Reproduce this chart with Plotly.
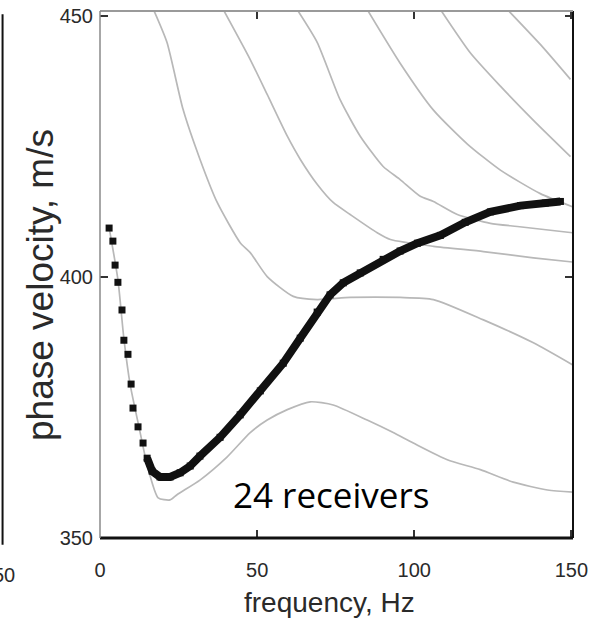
import plotly.graph_objects as go

# ---------------- data ----------------
# measured dispersion curve (black dots)
freq_obs = [2.9, 4.1, 4.8, 5.7, 7.0, 7.6, 8.9, 9.9, 10.5, 12.1, 13.7, 15.0,
            16.6, 19.1, 22.3, 25.5, 28.7, 31.8, 38.2, 44.6, 51.0, 58.3, 63.7,
            69.1, 73.2, 77.4, 82.8, 90.1, 95.5, 101.0, 108.3, 116.2, 124.2,
            133.8, 141.7, 146.5]
vel_obs = [409.4, 406.9, 402.3, 399.0, 393.7, 387.9, 385.2, 379.5, 374.9, 371.3,
           368.2, 365.3, 362.8, 361.7, 361.7, 362.5, 363.8, 365.7, 369.3, 373.6,
           378.2, 383.5, 388.3, 393.3, 396.6, 398.9, 400.8, 403.4, 405.0, 406.5,
           408.0, 410.5, 412.5, 413.7, 414.2, 414.5]
n_sparse = 12  # first points are separate dots, the rest merge into a thick band

# theoretical modes (grey lines)
m0_f = [2.9, 5.7, 7.6, 9.6, 12.4, 15.0, 18.5, 22.3, 24.5, 31.8, 40.4, 47.8, 53.2,
        59.6, 66.9, 74.2, 85.0, 93.3, 99.7, 110.5, 121.0, 131.5, 142.4, 150.6]
m0_v = [409.5, 399.5, 388.2, 379.4, 371.3, 364.0, 357.7, 357.3, 358.3, 361.1,
        365.5, 370.2, 372.6, 374.6, 376.1, 375.5, 372.6, 370.2, 368.2, 365.0,
        363.1, 360.7, 359.2, 358.8]
m1_f = [17.0, 21.3, 26.4, 31.8, 37.3, 44.6, 47.8, 53.2, 61.5, 69.1, 79.6, 95.5,
        106.1, 122.0, 137.9, 150.3]
m1_v = [451.3, 445.0, 432.2, 422.6, 414.3, 406.6, 404.7, 400.1, 396.3, 395.7,
        396.1, 396.1, 395.7, 391.8, 387.4, 383.2]
m2_f = [39.2, 47.8, 53.2, 59.6, 63.7, 69.1, 74.2, 79.6, 88.2, 92.4, 106.1, 122.0,
        137.9, 150.3]
m2_v = [451.3, 441.7, 435.0, 427.0, 422.6, 417.8, 414.3, 412.0, 408.5, 407.2,
        405.9, 404.9, 403.7, 402.9]
m3_f = [62.7, 69.1, 76.4, 82.8, 90.1, 95.5, 101.9, 106.1, 113.7, 124.2, 132.8, 150.3]
m3_v = [451.3, 445.0, 434.0, 427.0, 421.2, 418.7, 415.5, 414.5, 412.0, 410.3,
        409.7, 408.5]
m4_f = [85.0, 95.5, 106.1, 116.9, 127.4, 140.1, 150.3]
m4_v = [451.3, 441.0, 432.0, 425.5, 420.5, 416.0, 413.5]
m5_f = [108.3, 117.8, 127.4, 138.0, 149.7]
m5_v = [451.3, 443.0, 436.6, 430.0, 423.1]
m6_f = [129.6, 140.1, 149.7]
m6_v = [451.3, 444.6, 437.9]

modes = [(m0_f, m0_v), (m1_f, m1_v), (m2_f, m2_v), (m3_f, m3_v),
         (m4_f, m4_v), (m5_f, m5_v), (m6_f, m6_v)]

x_ticks = [0, 50, 100, 150]
y_ticks = [350, 400, 450]

# ---------------- figure ----------------
fig = go.Figure()
for f, v in modes:
    fig.add_trace(go.Scatter(x=f, y=v, mode="lines",
                             line=dict(color="#b8b8b8", width=1.7, shape="spline",
                                       smoothing=0.6),
                             showlegend=False, hoverinfo="skip"))

fig.add_trace(go.Scatter(x=freq_obs[n_sparse - 1:], y=vel_obs[n_sparse - 1:],
                         mode="lines", line=dict(color="#111111", width=8),
                         showlegend=False))
fig.add_trace(go.Scatter(x=freq_obs, y=vel_obs, mode="markers",
                         marker=dict(symbol="square", size=7, color="#111111"),
                         showlegend=False))

tickfont = dict(family="Liberation Sans, Arial, sans-serif", size=20, color="#2a2a2a")
fig.update_xaxes(range=[0, 150.5], tickvals=x_ticks, ticks="inside", ticklen=8,
                 tickwidth=1.5, tickcolor="#333333", mirror="ticks",
                 showline=False, showgrid=False, zeroline=False,
                 tickfont=tickfont, ticklabelstandoff=18)
fig.update_yaxes(range=[350, 451], tickvals=y_ticks, ticks="inside", ticklen=8,
                 tickwidth=1.5, tickcolor="#333333", mirror="ticks",
                 showline=False, showgrid=False, zeroline=False,
                 tickfont=tickfont, ticklabelstandoff=6)

shapes = [
    dict(type="line", xref="paper", yref="paper", x0=0, x1=1, y0=0, y1=0,
         line=dict(color="#111111", width=3)),
    dict(type="line", xref="paper", yref="paper", x0=1, x1=1, y0=0, y1=1,
         line=dict(color="#111111", width=2)),
    dict(type="line", xref="paper", yref="paper", x0=0, x1=1, y0=1, y1=1,
         line=dict(color="#9a9a9a", width=2)),
    dict(type="line", xref="paper", yref="paper", x0=0, x1=0, y0=0, y1=1,
         line=dict(color="#8a8a8a", width=1.5)),
    # edge of the neighbouring panel on the left
    dict(type="line", xref="paper", yref="paper", x0=-0.206, x1=-0.206,
         y0=-0.013, y1=0.994, line=dict(color="#111111", width=2)),
]

titlefont = dict(family="Liberation Sans, Arial, sans-serif", color="#2a2a2a")
annotations = [
    dict(text="phase velocity, m/s", xref="paper", yref="paper", x=-0.127, y=0.48,
         xanchor="center", yanchor="middle",
         textangle=-90, showarrow=False, font=dict(size=37, **titlefont)),
    dict(text="frequency, Hz", xref="paper", yref="paper", x=0.486, y=-0.123,
         xanchor="center", yanchor="middle",
         showarrow=False, font=dict(size=28, **titlefont)),
    dict(text="24 receivers", xref="paper", yref="paper", x=0.488, y=0.083,
         xanchor="center", yanchor="middle",
         showarrow=False, font=dict(family="Open Sans, Lato, sans-serif", size=35,
                                    color="#000000")),
    # tick label of the neighbouring panel, cut by the picture edge as in the original
    dict(text="50", xref="paper", yref="paper", x=-0.203, y=-0.07,
         xanchor="center", yanchor="middle",
         showarrow=False, font=dict(size=20, **titlefont)),
]

fig.update_layout(width=599, height=631,
                  margin=dict(l=100, r=26, t=11, b=93, autoexpand=False),
                  paper_bgcolor="white", plot_bgcolor="white",
                  shapes=shapes, annotations=annotations, showlegend=False)

fig.write_html("out.html", config={"displayModeBar": False},
               post_script="document.body.style.margin='0px';"
                           "document.body.style.overflow='hidden';")
